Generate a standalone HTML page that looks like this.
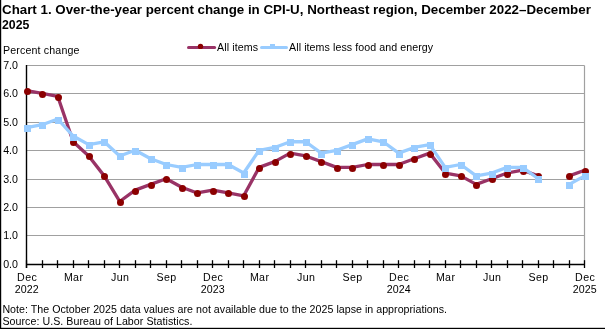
<!DOCTYPE html>
<html><head><meta charset="utf-8"><style>
html,body{margin:0;padding:0;background:#fff;width:605px;height:329px;overflow:hidden}
svg{display:block;font-family:"Liberation Sans", sans-serif}
svg{will-change:transform}
</style></head><body>
<svg width="605" height="329" viewBox="0 0 605 329">
<line x1="26.5" y1="235.50" x2="584.5" y2="235.50" stroke="#a0a0a0" stroke-width="1.2"/>
<line x1="26.5" y1="207.50" x2="584.5" y2="207.50" stroke="#a0a0a0" stroke-width="1.2"/>
<line x1="26.5" y1="179.50" x2="584.5" y2="179.50" stroke="#a0a0a0" stroke-width="1.2"/>
<line x1="26.5" y1="150.50" x2="584.5" y2="150.50" stroke="#a0a0a0" stroke-width="1.2"/>
<line x1="26.5" y1="122.50" x2="584.5" y2="122.50" stroke="#a0a0a0" stroke-width="1.2"/>
<line x1="26.5" y1="93.50" x2="584.5" y2="93.50" stroke="#a0a0a0" stroke-width="1.2"/>
<line x1="26.5" y1="65.50" x2="584.5" y2="65.50" stroke="#a0a0a0" stroke-width="1.2"/>
<line x1="584.5" y1="65.50" x2="584.5" y2="264.5" stroke="#a0a0a0" stroke-width="1.2"/>
<line x1="26.5" y1="65" x2="26.5" y2="268" stroke="#000" stroke-width="1.4"/>
<line x1="26.5" y1="264.5" x2="584.5" y2="264.5" stroke="#000" stroke-width="1.4"/>
<line x1="26.50" y1="260.2" x2="26.50" y2="268" stroke="#000" stroke-width="1.3"/>
<line x1="42.50" y1="260.2" x2="42.50" y2="268" stroke="#000" stroke-width="1.3"/>
<line x1="57.50" y1="260.2" x2="57.50" y2="268" stroke="#000" stroke-width="1.3"/>
<line x1="73.50" y1="260.2" x2="73.50" y2="268" stroke="#000" stroke-width="1.3"/>
<line x1="88.50" y1="260.2" x2="88.50" y2="268" stroke="#000" stroke-width="1.3"/>
<line x1="104.50" y1="260.2" x2="104.50" y2="268" stroke="#000" stroke-width="1.3"/>
<line x1="119.50" y1="260.2" x2="119.50" y2="268" stroke="#000" stroke-width="1.3"/>
<line x1="135.50" y1="260.2" x2="135.50" y2="268" stroke="#000" stroke-width="1.3"/>
<line x1="150.50" y1="260.2" x2="150.50" y2="268" stroke="#000" stroke-width="1.3"/>
<line x1="166.50" y1="260.2" x2="166.50" y2="268" stroke="#000" stroke-width="1.3"/>
<line x1="181.50" y1="260.2" x2="181.50" y2="268" stroke="#000" stroke-width="1.3"/>
<line x1="197.50" y1="260.2" x2="197.50" y2="268" stroke="#000" stroke-width="1.3"/>
<line x1="212.50" y1="260.2" x2="212.50" y2="268" stroke="#000" stroke-width="1.3"/>
<line x1="228.50" y1="260.2" x2="228.50" y2="268" stroke="#000" stroke-width="1.3"/>
<line x1="243.50" y1="260.2" x2="243.50" y2="268" stroke="#000" stroke-width="1.3"/>
<line x1="259.50" y1="260.2" x2="259.50" y2="268" stroke="#000" stroke-width="1.3"/>
<line x1="274.50" y1="260.2" x2="274.50" y2="268" stroke="#000" stroke-width="1.3"/>
<line x1="290.50" y1="260.2" x2="290.50" y2="268" stroke="#000" stroke-width="1.3"/>
<line x1="305.50" y1="260.2" x2="305.50" y2="268" stroke="#000" stroke-width="1.3"/>
<line x1="321.50" y1="260.2" x2="321.50" y2="268" stroke="#000" stroke-width="1.3"/>
<line x1="336.50" y1="260.2" x2="336.50" y2="268" stroke="#000" stroke-width="1.3"/>
<line x1="352.50" y1="260.2" x2="352.50" y2="268" stroke="#000" stroke-width="1.3"/>
<line x1="367.50" y1="260.2" x2="367.50" y2="268" stroke="#000" stroke-width="1.3"/>
<line x1="383.50" y1="260.2" x2="383.50" y2="268" stroke="#000" stroke-width="1.3"/>
<line x1="398.50" y1="260.2" x2="398.50" y2="268" stroke="#000" stroke-width="1.3"/>
<line x1="414.50" y1="260.2" x2="414.50" y2="268" stroke="#000" stroke-width="1.3"/>
<line x1="429.50" y1="260.2" x2="429.50" y2="268" stroke="#000" stroke-width="1.3"/>
<line x1="445.50" y1="260.2" x2="445.50" y2="268" stroke="#000" stroke-width="1.3"/>
<line x1="460.50" y1="260.2" x2="460.50" y2="268" stroke="#000" stroke-width="1.3"/>
<line x1="476.50" y1="260.2" x2="476.50" y2="268" stroke="#000" stroke-width="1.3"/>
<line x1="491.50" y1="260.2" x2="491.50" y2="268" stroke="#000" stroke-width="1.3"/>
<line x1="507.50" y1="260.2" x2="507.50" y2="268" stroke="#000" stroke-width="1.3"/>
<line x1="522.50" y1="260.2" x2="522.50" y2="268" stroke="#000" stroke-width="1.3"/>
<line x1="538.50" y1="260.2" x2="538.50" y2="268" stroke="#000" stroke-width="1.3"/>
<line x1="553.50" y1="260.2" x2="553.50" y2="268" stroke="#000" stroke-width="1.3"/>
<line x1="569.50" y1="260.2" x2="569.50" y2="268" stroke="#000" stroke-width="1.3"/>
<line x1="584.50" y1="260.2" x2="584.50" y2="268" stroke="#000" stroke-width="1.3"/>
<text x="3.2" y="268.30" font-size="10.65" fill="#000">0.0</text>
<text x="3.2" y="239.30" font-size="10.65" fill="#000">1.0</text>
<text x="3.2" y="211.30" font-size="10.65" fill="#000">2.0</text>
<text x="3.2" y="183.30" font-size="10.65" fill="#000">3.0</text>
<text x="3.2" y="154.30" font-size="10.65" fill="#000">4.0</text>
<text x="3.2" y="126.30" font-size="10.65" fill="#000">5.0</text>
<text x="3.2" y="97.30" font-size="10.65" fill="#000">6.0</text>
<text x="3.2" y="69.30" font-size="10.65" fill="#000">7.0</text>
<text x="27.10" y="280.8" text-anchor="middle" font-size="10.65" letter-spacing="0.35" fill="#000">Dec</text>
<text x="26.80" y="293.0" text-anchor="middle" font-size="10.65" letter-spacing="0.15" fill="#000">2022</text>
<text x="73.60" y="280.8" text-anchor="middle" font-size="10.65" letter-spacing="0.35" fill="#000">Mar</text>
<text x="120.10" y="280.8" text-anchor="middle" font-size="10.65" letter-spacing="0.35" fill="#000">Jun</text>
<text x="166.60" y="280.8" text-anchor="middle" font-size="10.65" letter-spacing="0.35" fill="#000">Sep</text>
<text x="213.10" y="280.8" text-anchor="middle" font-size="10.65" letter-spacing="0.35" fill="#000">Dec</text>
<text x="212.80" y="293.0" text-anchor="middle" font-size="10.65" letter-spacing="0.15" fill="#000">2023</text>
<text x="259.60" y="280.8" text-anchor="middle" font-size="10.65" letter-spacing="0.35" fill="#000">Mar</text>
<text x="306.10" y="280.8" text-anchor="middle" font-size="10.65" letter-spacing="0.35" fill="#000">Jun</text>
<text x="352.60" y="280.8" text-anchor="middle" font-size="10.65" letter-spacing="0.35" fill="#000">Sep</text>
<text x="399.10" y="280.8" text-anchor="middle" font-size="10.65" letter-spacing="0.35" fill="#000">Dec</text>
<text x="398.80" y="293.0" text-anchor="middle" font-size="10.65" letter-spacing="0.15" fill="#000">2024</text>
<text x="445.60" y="280.8" text-anchor="middle" font-size="10.65" letter-spacing="0.35" fill="#000">Mar</text>
<text x="492.10" y="280.8" text-anchor="middle" font-size="10.65" letter-spacing="0.35" fill="#000">Jun</text>
<text x="538.60" y="280.8" text-anchor="middle" font-size="10.65" letter-spacing="0.35" fill="#000">Sep</text>
<text x="585.10" y="280.8" text-anchor="middle" font-size="10.65" letter-spacing="0.35" fill="#000">Dec</text>
<text x="584.80" y="293.0" text-anchor="middle" font-size="10.65" letter-spacing="0.15" fill="#000">2025</text>
<polyline points="26.70,90.59 42.20,93.43 57.70,96.27 73.20,141.76 88.70,155.97 104.20,175.87 119.70,201.46 135.20,190.09 150.70,184.40 166.20,178.71 181.70,187.24 197.20,192.93 212.70,190.09 228.20,192.93 243.70,195.77 259.20,167.34 274.70,161.66 290.20,153.13 305.70,155.97 321.20,161.66 336.70,167.34 352.20,167.34 367.70,164.50 383.20,164.50 398.70,164.50 414.20,158.81 429.70,153.13 445.20,173.03 460.70,175.87 476.20,184.40 491.70,178.71 507.20,173.03 522.70,170.19 538.20,175.87" fill="none" stroke="#993366" stroke-width="3.3" stroke-linejoin="round" stroke-linecap="round"/>
<polyline points="569.20,175.87 584.70,170.19" fill="none" stroke="#993366" stroke-width="3.3" stroke-linejoin="round" stroke-linecap="round"/>
<circle cx="27.50" cy="91.50" r="3.5" fill="#8b0000"/>
<circle cx="42.50" cy="94.50" r="3.5" fill="#8b0000"/>
<circle cx="58.50" cy="97.50" r="3.5" fill="#8b0000"/>
<circle cx="73.50" cy="142.50" r="3.5" fill="#8b0000"/>
<circle cx="89.50" cy="156.50" r="3.5" fill="#8b0000"/>
<circle cx="104.50" cy="176.50" r="3.5" fill="#8b0000"/>
<circle cx="120.50" cy="202.50" r="3.5" fill="#8b0000"/>
<circle cx="135.50" cy="191.50" r="3.5" fill="#8b0000"/>
<circle cx="151.50" cy="185.50" r="3.5" fill="#8b0000"/>
<circle cx="166.50" cy="179.50" r="3.5" fill="#8b0000"/>
<circle cx="182.50" cy="188.50" r="3.5" fill="#8b0000"/>
<circle cx="197.50" cy="193.50" r="3.5" fill="#8b0000"/>
<circle cx="213.50" cy="191.50" r="3.5" fill="#8b0000"/>
<circle cx="228.50" cy="193.50" r="3.5" fill="#8b0000"/>
<circle cx="244.50" cy="196.50" r="3.5" fill="#8b0000"/>
<circle cx="259.50" cy="168.50" r="3.5" fill="#8b0000"/>
<circle cx="275.50" cy="162.50" r="3.5" fill="#8b0000"/>
<circle cx="290.50" cy="154.50" r="3.5" fill="#8b0000"/>
<circle cx="306.50" cy="156.50" r="3.5" fill="#8b0000"/>
<circle cx="321.50" cy="162.50" r="3.5" fill="#8b0000"/>
<circle cx="337.50" cy="168.50" r="3.5" fill="#8b0000"/>
<circle cx="352.50" cy="168.50" r="3.5" fill="#8b0000"/>
<circle cx="368.50" cy="165.50" r="3.5" fill="#8b0000"/>
<circle cx="383.50" cy="165.50" r="3.5" fill="#8b0000"/>
<circle cx="399.50" cy="165.50" r="3.5" fill="#8b0000"/>
<circle cx="414.50" cy="159.50" r="3.5" fill="#8b0000"/>
<circle cx="430.50" cy="154.50" r="3.5" fill="#8b0000"/>
<circle cx="445.50" cy="174.50" r="3.5" fill="#8b0000"/>
<circle cx="461.50" cy="176.50" r="3.5" fill="#8b0000"/>
<circle cx="476.50" cy="185.50" r="3.5" fill="#8b0000"/>
<circle cx="492.50" cy="179.50" r="3.5" fill="#8b0000"/>
<circle cx="507.50" cy="174.50" r="3.5" fill="#8b0000"/>
<circle cx="523.50" cy="171.50" r="3.5" fill="#8b0000"/>
<circle cx="538.50" cy="176.50" r="3.5" fill="#8b0000"/>
<circle cx="569.50" cy="176.50" r="3.5" fill="#8b0000"/>
<circle cx="585.50" cy="171.50" r="3.5" fill="#8b0000"/>
<polyline points="26.70,127.54 42.20,124.70 57.70,119.01 73.20,136.07 88.70,144.60 104.20,141.76 119.70,155.97 135.20,150.29 150.70,158.81 166.20,164.50 181.70,167.34 197.20,164.50 212.70,164.50 228.20,164.50 243.70,173.03 259.20,150.29 274.70,147.44 290.20,141.76 305.70,141.76 321.20,153.13 336.70,150.29 352.20,144.60 367.70,138.91 383.20,141.76 398.70,153.13 414.20,147.44 429.70,144.60 445.20,167.34 460.70,164.50 476.20,175.87 491.70,173.03 507.20,167.34 522.70,167.34 538.20,178.71" fill="none" stroke="#99ccff" stroke-width="3.3" stroke-linejoin="round" stroke-linecap="round"/>
<polyline points="569.20,184.40 584.70,175.87" fill="none" stroke="#99ccff" stroke-width="3.3" stroke-linejoin="round" stroke-linecap="round"/>
<rect x="24.00" y="125.00" width="7" height="7" fill="#99ccff"/>
<rect x="39.00" y="122.00" width="7" height="7" fill="#99ccff"/>
<rect x="55.00" y="117.00" width="7" height="7" fill="#99ccff"/>
<rect x="70.00" y="134.00" width="7" height="7" fill="#99ccff"/>
<rect x="86.00" y="142.00" width="7" height="7" fill="#99ccff"/>
<rect x="101.00" y="139.00" width="7" height="7" fill="#99ccff"/>
<rect x="117.00" y="153.00" width="7" height="7" fill="#99ccff"/>
<rect x="132.00" y="148.00" width="7" height="7" fill="#99ccff"/>
<rect x="148.00" y="156.00" width="7" height="7" fill="#99ccff"/>
<rect x="163.00" y="162.00" width="7" height="7" fill="#99ccff"/>
<rect x="179.00" y="165.00" width="7" height="7" fill="#99ccff"/>
<rect x="194.00" y="162.00" width="7" height="7" fill="#99ccff"/>
<rect x="210.00" y="162.00" width="7" height="7" fill="#99ccff"/>
<rect x="225.00" y="162.00" width="7" height="7" fill="#99ccff"/>
<rect x="241.00" y="171.00" width="7" height="7" fill="#99ccff"/>
<rect x="256.00" y="148.00" width="7" height="7" fill="#99ccff"/>
<rect x="272.00" y="145.00" width="7" height="7" fill="#99ccff"/>
<rect x="287.00" y="139.00" width="7" height="7" fill="#99ccff"/>
<rect x="303.00" y="139.00" width="7" height="7" fill="#99ccff"/>
<rect x="318.00" y="151.00" width="7" height="7" fill="#99ccff"/>
<rect x="334.00" y="148.00" width="7" height="7" fill="#99ccff"/>
<rect x="349.00" y="142.00" width="7" height="7" fill="#99ccff"/>
<rect x="365.00" y="136.00" width="7" height="7" fill="#99ccff"/>
<rect x="380.00" y="139.00" width="7" height="7" fill="#99ccff"/>
<rect x="396.00" y="151.00" width="7" height="7" fill="#99ccff"/>
<rect x="411.00" y="145.00" width="7" height="7" fill="#99ccff"/>
<rect x="427.00" y="142.00" width="7" height="7" fill="#99ccff"/>
<rect x="442.00" y="165.00" width="7" height="7" fill="#99ccff"/>
<rect x="458.00" y="162.00" width="7" height="7" fill="#99ccff"/>
<rect x="473.00" y="173.00" width="7" height="7" fill="#99ccff"/>
<rect x="489.00" y="171.00" width="7" height="7" fill="#99ccff"/>
<rect x="504.00" y="165.00" width="7" height="7" fill="#99ccff"/>
<rect x="520.00" y="165.00" width="7" height="7" fill="#99ccff"/>
<rect x="535.00" y="176.00" width="7" height="7" fill="#99ccff"/>
<rect x="566.00" y="182.00" width="7" height="7" fill="#99ccff"/>
<rect x="582.00" y="173.00" width="7" height="7" fill="#99ccff"/>
<line x1="188.5" y1="47.4" x2="214.6" y2="47.4" stroke="#993366" stroke-width="3" stroke-linecap="round"/>
<circle cx="200.5" cy="46.4" r="2.7" fill="#8b0000"/>
<text x="217" y="50.7" font-size="10.65" letter-spacing="0.12" fill="#000">All items</text>
<rect x="270" y="44" width="5" height="5" fill="#99ccff"/>
<line x1="261.5" y1="47.6" x2="286.5" y2="47.6" stroke="#99ccff" stroke-width="3" stroke-linecap="round"/>
<text x="289.1" y="50.7" font-size="10.65" letter-spacing="0.07" fill="#000">All items less food and energy</text>
<text x="2" y="13.5" font-size="13.33" font-weight="bold" fill="#000">Chart 1. Over-the-year percent change in CPI-U, Northeast region, December 2022–December</text>
<text x="2" y="28.8" font-size="13.33" font-weight="bold" fill="#000" textLength="27.4" lengthAdjust="spacingAndGlyphs">2025</text>
<text x="3" y="53.5" font-size="10.65" letter-spacing="0.15" fill="#000">Percent change</text>
<text x="2.4" y="312.9" font-size="10.65" letter-spacing="0.025" fill="#000">Note: The October 2025 data values are not available due to the 2025 lapse in appropriations.</text>
<text x="2.4" y="324.9" font-size="10.65" letter-spacing="0.05" fill="#000">Source: U.S. Bureau of Labor Statistics.</text>
<rect x="0" y="0" width="1.2" height="329" fill="#000"/>
<rect x="0" y="327.8" width="605" height="1.2" fill="#000"/>
</svg>
</body></html>
